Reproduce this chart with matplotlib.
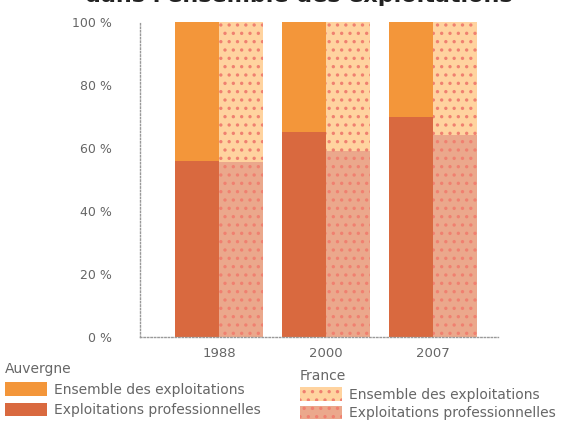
import matplotlib
matplotlib.use("Agg")
import matplotlib.pyplot as plt
from matplotlib.patches import Patch
import numpy as np

years = ["1988", "2000", "2007"]
auvergne_pro = [56, 65, 70]
france_pro = [55.5, 59, 64]
auvergne_total = [100, 100, 100]
france_total = [100, 100, 100]
yticks = [0, 20, 40, 60, 80, 100]
ytick_labels = ["0 %", "20 %", "40 %", "60 %", "80 %", "100 %"]
title = "dans l'ensemble des exploitations"

c_auv_ens = "#F3963A"
c_auv_pro = "#D9693F"
c_fr_ens = "#FFD39F"
c_fr_pro = "#EBA88C"
c_dot = "#F08070"
grey = "#666666"

plt.rcParams["hatch.linewidth"] = 1.2
fig = plt.figure(figsize=(5.78, 4.25), dpi=100)
ax = fig.add_axes([140/578, 1-337/425, (498-140)/578, (337-22)/425])

x = np.arange(len(years))
w = 0.41
ax.bar(x - w/2, auvergne_total, w, color=c_auv_ens, linewidth=0)
ax.bar(x - w/2, auvergne_pro, w, color=c_auv_pro, linewidth=0)
ax.bar(x + w/2, france_total, w, color=c_fr_ens, edgecolor=c_dot, hatch="..", linewidth=0)
ax.bar(x + w/2, france_pro, w, color=c_fr_pro, edgecolor=c_dot, hatch="..", linewidth=0)

ax.set_xlim(-0.74, 2.61)
ax.set_ylim(0, 100)
ax.set_xticks(x)
ax.set_xticklabels(years, fontsize=9.5, color=grey)
ax.set_yticks(yticks)
ax.set_yticklabels(ytick_labels, fontsize=9, color=grey)
ax.tick_params(length=0)
ax.tick_params(axis="y", pad=20)
ax.tick_params(axis="x", pad=7)
for s in ["top", "right"]:
    ax.spines[s].set_visible(False)
for s in ["left", "bottom"]:
    ax.spines[s].set_linestyle((0, (1, 1.5)))
    ax.spines[s].set_color("#999999")
    ax.spines[s].set_linewidth(1)

fig.text(298.5/578, 1-2.5/425, title, ha="center", va="baseline", fontsize=16,
         fontweight="bold", color="#222222")

common = dict(frameon=False, fontsize=10, title_fontsize=10,
              handlelength=3.0, handleheight=1.1, handletextpad=0.5,
              labelspacing=0.45, borderaxespad=0, borderpad=0.0)

leg1 = fig.legend(handles=[Patch(facecolor=c_auv_ens, label="Ensemble des exploitations"),
                           Patch(facecolor=c_auv_pro, label="Exploitations professionnelles")],
                  title="Auvergne", loc="upper left", bbox_to_anchor=(5/578, 1-362/425),
                  **common)
leg1._legend_box.align = "left"
for t in leg1.get_texts():
    t.set_color(grey)
leg1.get_title().set_color(grey)

leg2 = fig.legend(handles=[Patch(facecolor=c_fr_ens, edgecolor=c_dot, hatch="..", linewidth=0, label="Ensemble des exploitations"),
                           Patch(facecolor=c_fr_pro, edgecolor=c_dot, hatch="..", linewidth=0, label="Exploitations professionnelles")],
                  title="France", loc="upper left", bbox_to_anchor=(300/578, 1-369/425),
                  **dict(common, labelspacing=0.3))
leg2._legend_box.align = "left"
for t in leg2.get_texts():
    t.set_color(grey)
leg2.get_title().set_color(grey)

fig.savefig("out.png", dpi=100)
